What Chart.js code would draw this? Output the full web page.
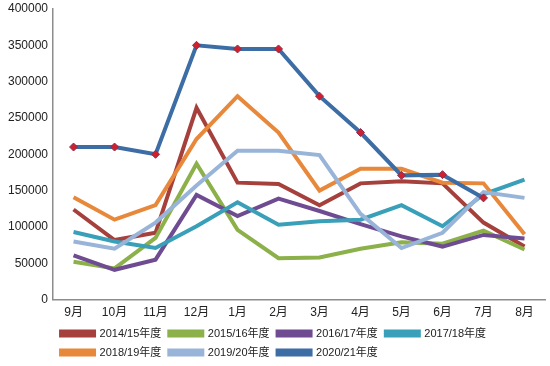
<!DOCTYPE html>
<html>
<head>
<meta charset="utf-8">
<script src="https://cdn.jsdelivr.net/npm/chart.js@4/dist/chart.umd.min.js"></script>
<style>
  html, body { margin: 0; padding: 0; background: #fff; }
  #wrap { width: 550px; height: 366px; }
</style>
</head>
<body>
<div id="wrap"><canvas id="seasonChart" width="550" height="366"></canvas></div>
<script>
const months = ["9月", "10月", "11月", "12月", "1月", "2月", "3月", "4月", "5月", "6月", "7月", "8月"];
const seasons = ["2014/15年度", "2015/16年度", "2016/17年度", "2017/18年度", "2018/19年度", "2019/20年度", "2020/21年度"];

const s1415 = [124000, 82000, 92000, 264000, 161000, 159000, 130000, 160000, 163000, 160000, 106000, 73000];
const s1516 = [52000, 43000, 85000, 187000, 96000, 57000, 58000, 70000, 79000, 77000, 95000, 69000];
const s1617 = [61000, 41000, 55000, 144000, 115000, 139000, 122000, 104000, 87000, 73000, 89000, 84000];
const s1718 = [93000, 80000, 71000, 101000, 134000, 103000, 108000, 110000, 130000, 101000, 145000, 165000];
const s1819 = [141000, 110000, 130000, 221000, 280000, 230000, 150000, 180000, 180000, 161000, 160000, 90000];
const s1920 = [80000, 70000, 106000, 157000, 205000, 205000, 199000, 118000, 71000, 92000, 148000, 140000];
const s2021 = [210000, 210000, 200000, 350000, 345000, 345000, 280000, 230000, 171000, 172000, 140000, null];

const seriesValues = [s1415, s1516, s1617, s1718, s1819, s1920, s2021];
const lineColors = ["#A5403C", "#8CB04A", "#6F4C92", "#3A9FB8", "#E8883A", "#98B4D8", "#3D6DA5"];

const datasets = seasons.map(function (name, i) {
  const isLast = i === seasons.length - 1;
  return {
    label: name,
    data: seriesValues[i],
    borderColor: lineColors[i],
    backgroundColor: lineColors[i],
    borderWidth: 4,
    tension: 0,
    fill: false,
    order: seasons.length - i,
    pointStyle: "rectRot",
    pointRadius: isLast ? 4 : 0,
    pointBackgroundColor: "#D0202E",
    pointBorderColor: "#8A3050",
    pointBorderWidth: 1,
  };
});

const tickFont = { family: "'Liberation Sans', 'Noto Sans CJK SC', sans-serif", size: 12 };

const chart = new Chart(document.getElementById("seasonChart"), {
  type: "line",
  data: { labels: months, datasets: datasets },
  options: {
    responsive: false,
    animation: false,
    layout: { padding: { top: 0, right: 5, left: 3, bottom: -2 } },
    scales: {
      x: {
        offset: true,
        grid: { display: false, drawTicks: false },
        border: { display: true, color: "#8C8C8C", width: 1.5 },
        ticks: { color: "#222", font: tickFont, padding: 6 },
        // pull the legend up closer to the month labels
        afterFit: function (scale) { scale.height -= 6; },
      },
      y: {
        min: 0,
        max: 400000,
        grid: { display: false, drawTicks: false },
        border: { display: true, color: "#8C8C8C", width: 1.5 },
        ticks: {
          stepSize: 50000,
          color: "#222",
          font: tickFont,
          padding: 5,
          callback: function (value) { return String(value); },
        },
        afterFit: function (scale) {
          scale.paddingTop = 9;
          scale.paddingBottom = 7;
        },
      },
    },
    plugins: {
      tooltip: { enabled: false },
      legend: {
        position: "bottom",
        align: "start",
        fullSize: false,
        labels: {
          boxWidth: 33,
          boxHeight: 4,
          padding: 8,
          color: "#222",
          font: { family: "'Liberation Sans', 'Noto Sans CJK SC', sans-serif", size: 11 },
          sort: function (a, b) { return a.datasetIndex - b.datasetIndex; },
        },
      },
    },
  },
});
</script>
</body>
</html>
